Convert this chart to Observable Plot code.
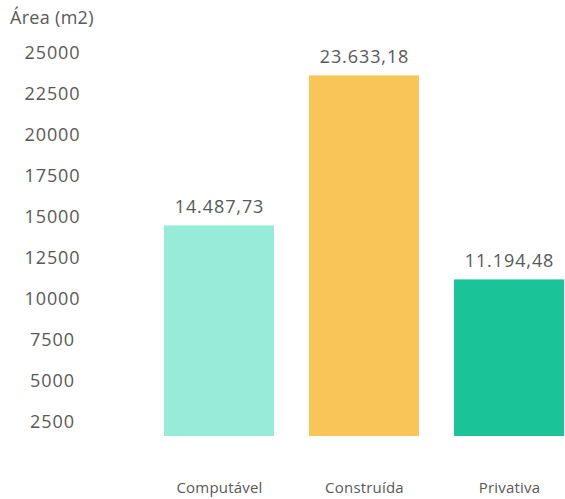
<!DOCTYPE html>
<html>
<head>
<meta charset="utf-8">
<script src="https://cdn.jsdelivr.net/npm/d3@7"></script>
<script src="https://cdn.jsdelivr.net/npm/@observablehq/plot@0.6"></script>
<style>
  body { margin: 0; background: #fff; }
  #title { font-family: "Open Sans", sans-serif; font-size: 18px; color: #595959; height: 34px; line-height: 34px; padding-left: 10px; letter-spacing: 0.3px; }
  svg { display: block; }
  svg text { letter-spacing: 0.9px; }
  svg g[aria-label="x-axis tick label"] text { letter-spacing: 0.2px; }
</style>
</head>
<body>
<div id="title">Área (m2)</div>
<div id="chart"></div>
<script>
const categories = ["Computável", "Construída", "Privativa"];
const values = [14487.73, 23633.18, 11194.48];
const colors = ["#96ebd9", "#f9c558", "#1bc399"];
const yTicks = [2500, 5000, 7500, 10000, 12500, 15000, 17500, 20000, 22500, 25000];

const data = categories.map((c, i) => ({category: c, value: values[i], color: colors[i]}));
const ptBR = d3.formatLocale({decimal: ",", thousands: ".", grouping: [3], currency: ["R$", ""]});
const fmt = ptBR.format(",.2f");

const chart = Plot.plot({
  width: 565,
  height: 465,
  marginLeft: 163,
  marginRight: 1,
  marginTop: 19,
  marginBottom: 63,
  style: {fontFamily: "Open Sans, sans-serif", color: "#595959", background: "#fff"},
  x: {domain: categories, paddingInner: 0.244, paddingOuter: 0, label: null},
  y: {domain: [1646, 25000], clamp: true, label: null},
  marks: [
    Plot.barY(data, {x: "category", y: "value", fill: "color"}),
    Plot.text(data, {x: "category", y: "value", text: d => fmt(d.value), dy: -19, lineAnchor: "middle", fontSize: 18, fill: "#595959"}),
    Plot.axisY(yTicks, {tickSize: 0, tickPadding: 111, textAnchor: "middle", fontSize: 18, fill: "#595959", label: null, tickFormat: d => String(d)}),
    Plot.axisX({tickSize: 0, tickPadding: 46, fontSize: 15, fill: "#595959", label: null})
  ]
});
document.getElementById("chart").appendChild(chart);
</script>
</body>
</html>
